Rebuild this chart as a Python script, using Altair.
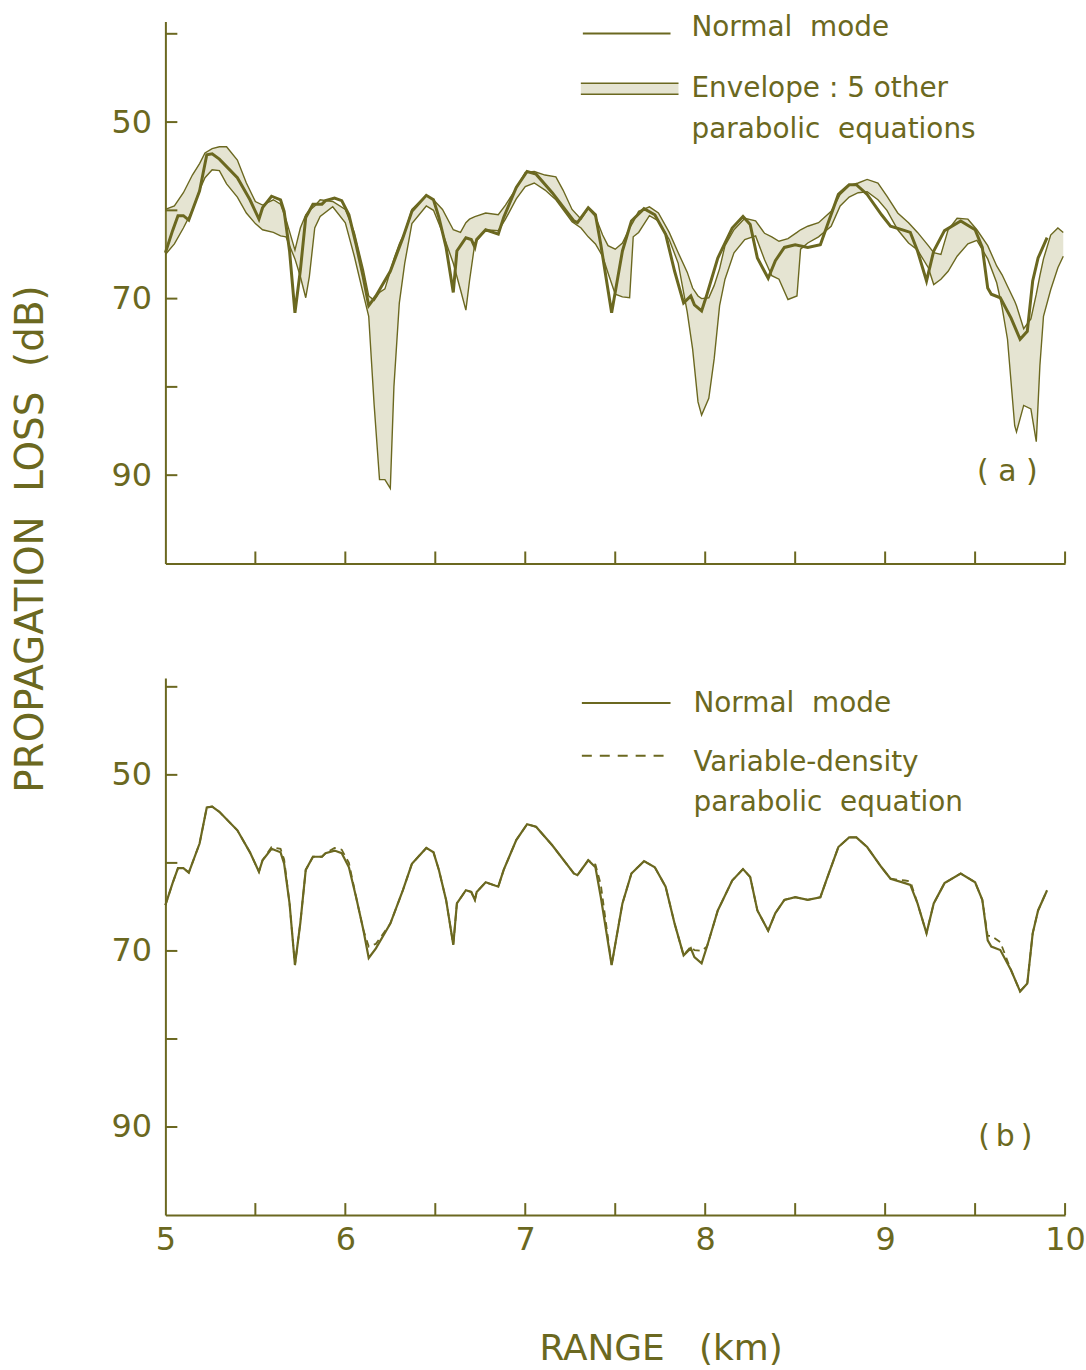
import altair as alt
import pandas as pd

OLIVE = "#6b6820"
FILL = "#a9a46a"
FONT = "DejaVu Sans"
SP = "\u00a0"
THIN = "\u2009"

# ---------------- data ----------------
range_km = [5.00, 5.04, 5.07, 5.10, 5.13, 5.19, 5.23, 5.26, 5.30, 5.40, 5.47, 5.52, 5.54, 5.59,
            5.64, 5.66, 5.69, 5.72, 5.75, 5.78, 5.82, 5.87, 5.89, 5.94, 5.98, 6.02, 6.06, 6.10,
            6.13, 6.17, 6.25, 6.32, 6.37, 6.45, 6.49, 6.52, 6.56, 6.60, 6.62, 6.67, 6.70, 6.72,
            6.73, 6.78, 6.85, 6.88, 6.95, 7.01, 7.06, 7.15, 7.27, 7.29, 7.35, 7.39, 7.42, 7.48,
            7.54, 7.59, 7.66, 7.72, 7.78, 7.83, 7.88, 7.92, 7.94, 7.98, 8.01, 8.07, 8.15, 8.21,
            8.25, 8.29, 8.35, 8.39, 8.44, 8.50, 8.57, 8.64, 8.68, 8.74, 8.80, 8.84, 8.90, 8.98,
            9.03, 9.11, 9.14, 9.18, 9.23, 9.27, 9.33, 9.42, 9.50, 9.54, 9.57, 9.59, 9.64, 9.70,
            9.75, 9.79, 9.82, 9.85, 9.90]
normal_mode = [64.8, 62.3, 60.6, 60.6, 61.1, 57.8, 53.7, 53.6, 54.2, 56.3, 58.8, 61.0, 59.7, 58.4,
               58.8, 60.1, 64.6, 71.6, 66.8, 60.8, 59.3, 59.3, 58.9, 58.6, 58.9, 60.5, 63.9, 67.6,
               70.8, 69.7, 66.9, 63.1, 60.1, 58.3, 58.8, 60.8, 64.2, 69.3, 64.6, 63.1, 63.3, 64.2,
               63.3, 62.2, 62.7, 60.8, 57.4, 55.6, 55.9, 58.0, 61.2, 61.4, 59.7, 60.5, 63.9, 71.6,
               64.6, 61.2, 59.8, 60.5, 62.7, 66.9, 70.5, 69.7, 70.7, 71.4, 69.5, 65.4, 62.0, 60.7,
               61.6, 65.4, 67.7, 65.7, 64.2, 63.9, 64.2, 63.9, 61.6, 58.2, 57.1, 57.1, 58.2, 60.5,
               61.8, 62.3, 62.5, 64.6, 68.0, 64.6, 62.3, 61.2, 62.2, 64.2, 68.8, 69.5, 69.9, 72.2,
               74.6, 73.7, 68.0, 65.4, 63.1]
variable_density_pe = [64.8, 62.3, 60.6, 60.6, 61.1, 57.8, 53.7, 53.6, 54.2, 56.3, 58.8, 61.0, 59.7, 58.2,
                       58.4, 59.6, 64.6, 71.6, 66.8, 60.8, 59.3, 59.3, 58.9, 58.3, 58.5, 60.0, 63.9, 67.6,
                       69.5, 69.2, 66.9, 63.1, 60.1, 58.3, 58.8, 60.8, 64.2, 69.3, 64.6, 63.1, 63.3, 64.2,
                       63.3, 62.2, 62.7, 60.8, 57.4, 55.6, 55.9, 58.0, 61.2, 61.4, 59.7, 60.2, 62.5, 71.6,
                       64.6, 61.2, 59.8, 60.5, 62.7, 66.9, 70.5, 69.5, 69.9, 70.0, 69.5, 65.4, 62.0, 60.7,
                       61.6, 65.4, 67.7, 65.7, 64.2, 63.9, 64.2, 63.9, 61.6, 58.2, 57.1, 57.1, 58.2, 60.5,
                       61.8, 62.0, 62.1, 64.6, 68.0, 64.6, 62.3, 61.2, 62.2, 64.2, 68.3, 68.3, 69.0, 72.2,
                       74.6, 73.7, 68.0, 65.4, 63.1]

env_range = [5.00, 5.05, 5.10, 5.15, 5.19, 5.22, 5.26, 5.30, 5.34, 5.40, 5.45, 5.50, 5.54, 5.60,
             5.64, 5.67, 5.72, 5.75, 5.78, 5.80, 5.83, 5.86, 5.93, 6.00, 6.05, 6.10, 6.13, 6.16,
             6.19, 6.22, 6.25, 6.27, 6.30, 6.33, 6.37, 6.45, 6.49, 6.54, 6.60, 6.64, 6.67, 6.69,
             6.72, 6.78, 6.85, 6.89, 6.95, 7.00, 7.05, 7.11, 7.17, 7.21, 7.26, 7.31, 7.35, 7.39,
             7.43, 7.46, 7.50, 7.54, 7.58, 7.60, 7.63, 7.69, 7.74, 7.80, 7.85, 7.90, 7.93, 7.96,
             7.98, 8.02, 8.05, 8.08, 8.11, 8.16, 8.22, 8.28, 8.33, 8.37, 8.41, 8.46, 8.51, 8.53,
             8.57, 8.63, 8.70, 8.75, 8.80, 8.85, 8.90, 8.96, 9.01, 9.07, 9.13, 9.18, 9.24, 9.27,
             9.31, 9.35, 9.40, 9.46, 9.51, 9.57, 9.62, 9.65, 9.68, 9.72, 9.73, 9.77, 9.81, 9.84,
             9.86, 9.88, 9.92, 9.96, 9.99]
env_min = [59.9, 59.5, 58.0, 56.0, 54.7, 53.5, 53.0, 52.8, 52.8, 54.3, 56.9, 59.0, 59.4, 58.8,
           59.3, 61.0, 64.5, 62.0, 60.5, 60.0, 59.5, 58.8, 59.0, 59.9, 62.5, 66.7, 69.7, 70.2,
           69.3, 68.9, 66.9, 65.5, 63.8, 62.5, 59.9, 58.3, 58.8, 59.9, 62.2, 62.5, 61.4, 61.0,
           60.7, 60.3, 60.5, 59.4, 57.5, 55.7, 55.6, 56.0, 56.2, 57.7, 59.9, 61.0, 59.8, 60.7,
           62.8, 64.0, 64.4, 63.7, 62.0, 61.3, 60.1, 59.6, 60.3, 62.5, 64.8, 67.0, 68.8, 69.7,
           70.0, 69.9, 68.5, 66.6, 64.0, 62.2, 60.9, 61.2, 62.6, 63.0, 63.5, 63.2, 62.5, 62.2,
           61.8, 61.4, 60.1, 58.2, 57.2, 56.9, 56.5, 56.9, 58.4, 60.3, 61.4, 62.5, 64.0, 64.8,
           65.0, 62.2, 60.9, 61.0, 62.2, 64.0, 66.3, 67.3, 68.6, 70.3, 70.8, 73.4, 72.3, 69.5,
           67.4, 65.5, 62.8, 62.0, 62.5]
env_max = [65.0, 63.8, 62.0, 60.0, 57.7, 56.3, 55.4, 55.5, 57.0, 58.5, 60.3, 61.5, 62.2, 62.5,
           62.9, 63.0, 65.5, 67.5, 69.9, 67.5, 62.0, 60.7, 59.6, 61.4, 65.2, 69.5, 72.0, 82.0,
           90.5, 90.5, 91.5, 80.0, 70.5, 66.0, 61.5, 59.5, 60.0, 62.5, 66.0, 69.0, 71.3, 68.0,
           63.7, 62.2, 62.3, 61.0, 58.7, 57.3, 56.9, 57.7, 58.8, 59.9, 61.3, 62.0, 63.0, 63.8,
           65.2, 67.1, 69.5, 69.8, 69.9, 63.0, 62.5, 60.6, 61.2, 63.3, 66.0, 71.5, 75.7, 81.7,
           83.2, 81.3, 76.8, 70.8, 67.8, 64.8, 63.3, 62.9, 65.6, 67.4, 67.8, 70.1, 69.7, 64.4,
           63.7, 63.0, 61.8, 59.5, 58.5, 58.0, 57.9, 58.8, 60.0, 62.2, 63.7, 64.5, 66.5, 68.4,
           67.8, 66.9, 65.2, 63.8, 63.4, 65.5, 68.2, 71.0, 74.6, 84.4, 85.1, 82.1, 82.5, 86.2,
           77.6, 72.0, 69.0, 66.5, 65.2]

y_tick_values = [40, 50, 60, 70, 80, 90]
y_label_values = [50, 70, 90]
x_tick_values = [5.5, 6.0, 6.5, 7.0, 7.5, 8.0, 8.5, 9.0, 9.5, 10.0]
x_label_values = [5, 6, 7, 8, 9, 10]

legend_a = ["Normal" + SP * 2 + "mode", "Envelope : 5 other", "parabolic" + SP * 2 + "equations"]
legend_b = ["Normal" + SP * 2 + "mode", "Variable-density", "parabolic" + SP * 2 + "equation"]
y_title = "PROPAGATION" + SP * 2 + "LOSS" + SP * 2 + "(dB)"
x_title = "RANGE" + SP * 3 + "(km)"

# ---------------- frames ----------------
df_nm = pd.DataFrame({"range": range_km, "nm": normal_mode, "vd": variable_density_pe})
df_env = pd.DataFrame({"range": env_range, "lo": env_min, "hi": env_max})
df_yt = pd.DataFrame({"range": y_tick_values})
df_xt = pd.DataFrame({"range": x_tick_values})

W = 903
HA = 544
HB = 539

xs = alt.Scale(domain=[5, 10], nice=False, zero=False)
ysa = alt.Scale(domain=[38.6, 100], reverse=True, nice=False, zero=False)
ysb = alt.Scale(domain=[39, 100], reverse=True, nice=False, zero=False)


def y_axis(with_title):
    kw = dict(values=y_label_values, tickSize=0, labelFontSize=32, labelPadding=14,
              labelColor=OLIVE, labelFont=FONT, domainColor=OLIVE, domainWidth=2,
              grid=False, labelFontWeight="normal", labelFlush=False)
    if with_title:
        kw.update(title=y_title, titleFontSize=39, titleColor=OLIVE, titleFont=FONT,
                  titleFontWeight="normal", titleX=-135, titleY=519, titleAngle=270,
                  titleAlign="center", titleBaseline="middle")
    else:
        kw.update(title="")
    return alt.Axis(**kw)


def x_axis(with_labels):
    kw = dict(tickSize=0, domainColor=OLIVE, domainWidth=2, grid=False)
    if with_labels:
        kw.update(values=x_label_values, labelFontSize=32, labelPadding=10, labelColor=OLIVE,
                  labelFont=FONT, labelBaseline="top", labelFlush=False, labelOverlap=False,
                  title=x_title, titleFontSize=36,
                  titleColor=OLIVE, titleFont=FONT, titleFontWeight="normal",
                  titleX=497, titleY=134, titleBaseline="middle", titleAlign="center")
    else:
        kw.update(labels=False, title="")
    return alt.Axis(**kw)


def label(txt, x, y, size=28, align="left"):
    return alt.Chart(pd.DataFrame({"t": [txt]})).mark_text(
        font=FONT, fontSize=size, color=OLIVE, align=align, baseline="middle").encode(
        text="t:N", x=alt.value(x), y=alt.value(y))


def hrule(x1, x2, y, dash=None, width=2):
    kw = dict(color=OLIVE, strokeWidth=width)
    if dash:
        kw["strokeDash"] = dash
    return alt.Chart(pd.DataFrame({"k": [0]})).mark_rule(**kw).encode(
        x=alt.value(x1), x2=alt.value(x2), y=alt.value(y))


# ---------------- panel (a) ----------------
XA = alt.X("range:Q", scale=xs, axis=x_axis(False))
env_area = alt.Chart(df_env).mark_area(color=FILL, opacity=0.3).encode(
    x=XA, y=alt.Y("lo:Q", scale=ysa, axis=y_axis(True)), y2="hi:Q")
env_lo = alt.Chart(df_env).mark_line(color=OLIVE, strokeWidth=1.4).encode(
    x=XA, y=alt.Y("lo:Q", scale=ysa, axis=y_axis(True)))
env_hi = alt.Chart(df_env).mark_line(color=OLIVE, strokeWidth=1.4).encode(
    x=XA, y=alt.Y("hi:Q", scale=ysa, axis=y_axis(True)))
nm_a = alt.Chart(df_nm).mark_line(color=OLIVE, strokeWidth=3).encode(
    x=XA, y=alt.Y("nm:Q", scale=ysa, axis=y_axis(True)))
yt_a = alt.Chart(df_yt).mark_rule(color=OLIVE, strokeWidth=2).encode(
    y=alt.Y("range:Q", scale=ysa, axis=y_axis(True)), x=alt.value(0), x2=alt.value(12))
xt_a = alt.Chart(df_xt).mark_rule(color=OLIVE, strokeWidth=2).encode(
    x=XA, y=alt.value(HA), y2=alt.value(HA - 12))

leg_box = alt.Chart(pd.DataFrame({"k": [0]})).mark_rect(color=FILL, opacity=0.3).encode(
    x=alt.value(417), x2=alt.value(515), y=alt.value(62), y2=alt.value(73))

panel_a = alt.layer(
    env_area, env_lo, env_hi, nm_a, yt_a, xt_a,
    hrule(419, 507, 12),
    label(legend_a[0], 528, 7),
    leg_box, hrule(417, 515, 62, width=1.5), hrule(417, 515, 73, width=1.5),
    label(legend_a[1], 528, 68),
    label(legend_a[2], 528, 109),
    label("(" + SP + "a" + SP + ")", 845, 452, size=30, align="center"),
).properties(width=W, height=HA)

# ---------------- panel (b) ----------------
XB = alt.X("range:Q", scale=xs, axis=x_axis(True))
nm_b = alt.Chart(df_nm).mark_line(color=OLIVE, strokeWidth=2.2).encode(
    x=XB, y=alt.Y("nm:Q", scale=ysb, axis=y_axis(False)))
vd_b = alt.Chart(df_nm).mark_line(color=OLIVE, strokeWidth=1.8, strokeDash=[7, 5]).encode(
    x=XB, y=alt.Y("vd:Q", scale=ysb, axis=y_axis(False)))
yt_b = alt.Chart(df_yt).mark_rule(color=OLIVE, strokeWidth=2).encode(
    y=alt.Y("range:Q", scale=ysb, axis=y_axis(False)), x=alt.value(0), x2=alt.value(12))
xt_b = alt.Chart(df_xt).mark_rule(color=OLIVE, strokeWidth=2).encode(
    x=XB, y=alt.value(HB), y2=alt.value(HB - 12))

panel_b = alt.layer(
    nm_b, vd_b, yt_b, xt_b,
    hrule(418, 507, 25),
    label(legend_b[0], 530, 26),
    hrule(418, 503, 78, dash=[10, 8]),
    label(legend_b[1], 530, 85),
    label(legend_b[2], 530, 125),
    label("(" + THIN + "b" + THIN + ")", 843, 461, size=30, align="center"),
).properties(width=W, height=HB)

chart = alt.vconcat(panel_a, panel_b, spacing=115, bounds="flush").properties(
    padding={"left": 12, "top": 12, "right": 0, "bottom": 0},
    background="white",
).configure_view(stroke=None)

chart.save("out.html", embed_options={"renderer": "svg", "actions": False})
